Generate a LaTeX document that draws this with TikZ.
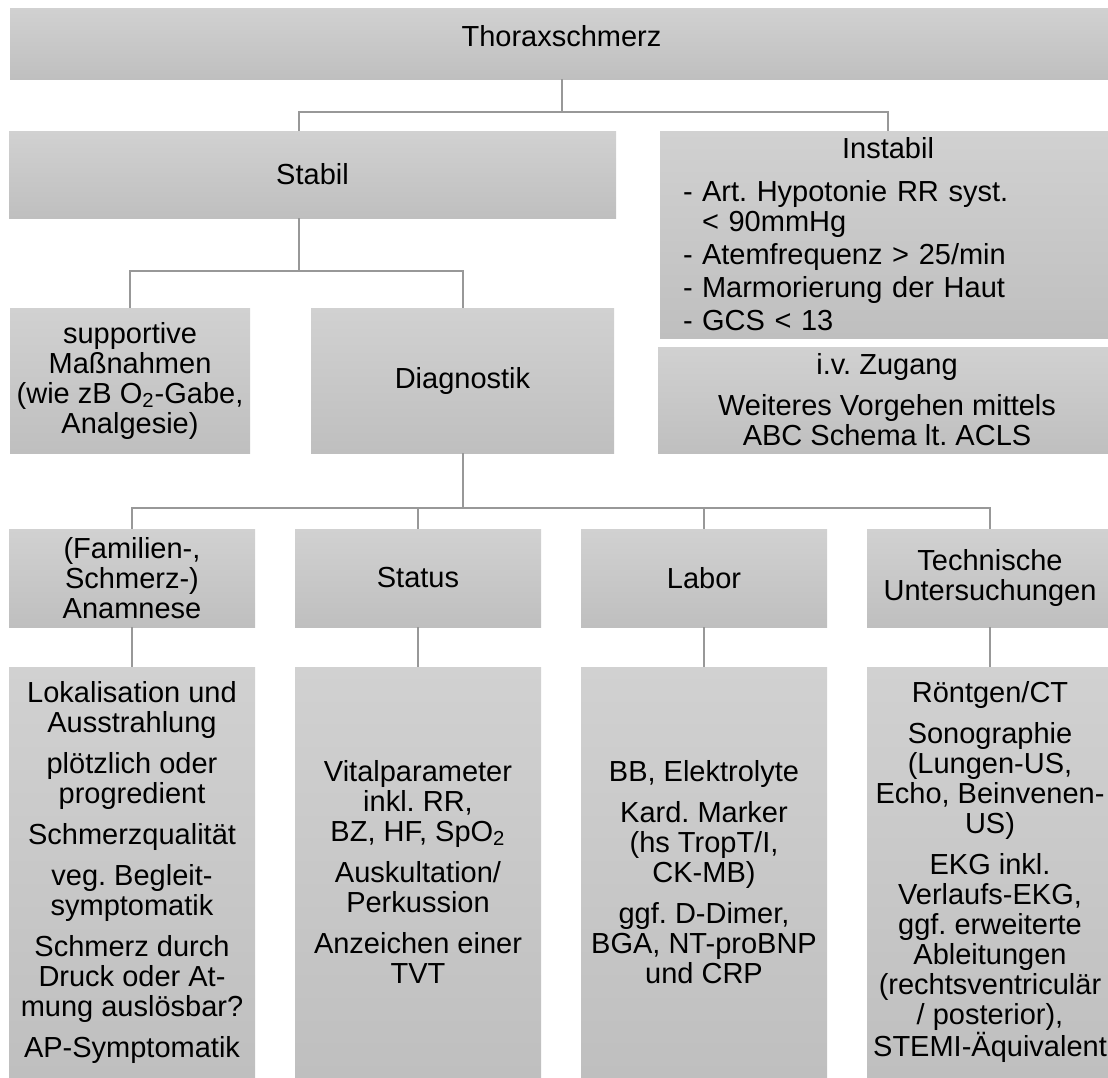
\documentclass[tikz,border=0pt]{standalone}
\usepackage{fontspec}
\setmainfont{Liberation Sans}
\frenchspacing
\definecolor{boxtop}{RGB}{209,209,209}
\definecolor{boxbot}{RGB}{191,191,191}
\definecolor{connline}{RGB}{152,152,152}
\newcommand{\dashitem}{\makebox[9.5pt][l]{-}}
\newcommand{\hang}{\hspace*{9.5pt}}

\begin{document}
\begin{tikzpicture}[x=0.5pt, y=-0.5pt,
  gbox/.style={rectangle, top color=boxtop, bottom color=boxbot, draw=none,
               inner sep=2pt, font=\fontsize{14.5}{15}\selectfont, align=center},
  conn/.style={draw=connline, line width=1pt}
]
\useasboundingbox (0,0) rectangle (1108,1077);

% Top level
\node[gbox, minimum width=551.5pt, minimum height=35.5pt] (thorax) at (561.5,43.5)
  {\raisebox{3.5pt}[\height][\depth]{Thoraxschmerz}};

% Second level
\node[gbox, minimum width=303.5pt, minimum height=43.5pt] (stabil) at (312.5,174.5) {Stabil};

\node[gbox, minimum width=228pt, minimum height=103.5pt, inner xsep=11.5pt,
      text width=205pt, align=left] (instabil) at (888,234.5)
  {\hfill Instabil\hfill\null\\[6.5pt]
   \dashitem Art. Hypotonie RR syst.\\
   \hang < 90mmHg\\[1.5pt]
   \dashitem Atemfrequenz > 25/min\\[1.5pt]
   \dashitem Marmorierung der Haut\\[1.5pt]
   \dashitem GCS < 13};

\node[gbox, minimum width=229pt, minimum height=53pt] (ivz) at (887,400)
  {i.v. Zugang\\[5.5pt]Weiteres Vorgehen mittels\\ABC Schema lt. ACLS};

% Third level
\node[gbox, minimum width=120pt, minimum height=72.5pt] (supp) at (130,380.5)
  {supportive\\Maßnahmen\\(wie zB O\textsubscript{2}-Gabe,\\Analgesie)};

\node[gbox, minimum width=151.5pt, minimum height=72.5pt] (diag) at (462.5,380.5) {Diagnostik};

% Diagnostik branches
\node[gbox, minimum width=123pt, minimum height=49pt] (anam)   at (132,578) {(Familien-,\\Schmerz-)\\Anamnese};
\node[gbox, minimum width=123pt, minimum height=49pt] (status) at (418,578) {Status};
\node[gbox, minimum width=123pt, minimum height=49pt] (labor)  at (704,578) {Labor};
\node[gbox, minimum width=123pt, minimum height=49pt] (techn)  at (990,578) {Technische\\Untersuchungen};

% Details
\node[gbox, minimum width=123pt, minimum height=205pt] (anamdet) at (132,872)
  {Lokalisation und\\Ausstrahlung\\[5.5pt]
   plötzlich oder\\progredient\\[5.5pt]
   Schmerzqualität\\[5.5pt]
   veg. Begleit-\\symptomatik\\[5.5pt]
   Schmerz durch\\Druck oder At-\\mung auslösbar?\\[5.5pt]
   AP-Symptomatik};

\node[gbox, minimum width=123pt, minimum height=205pt] (statusdet) at (418,872)
  {Vitalparameter\\inkl. RR,\\BZ, HF, SpO\textsubscript{2}\\[5.5pt]
   Auskultation/\\Perkussion\\[5.5pt]
   Anzeichen einer\\TVT};

\node[gbox, minimum width=123pt, minimum height=205pt] (labordet) at (704,872)
  {BB, Elektrolyte\\[5.5pt]
   Kard. Marker\\(hs TropT/I,\\CK-MB)\\[5.5pt]
   ggf. D-Dimer,\\BGA, NT-proBNP\\und CRP};

\node[gbox, minimum width=123pt, minimum height=205pt] (techndet) at (990,872)
  {Röntgen/CT\\[5.5pt]
   Sonographie\\(Lungen-US,\\Echo, Beinvenen-\\US)\\[5.5pt]
   EKG inkl.\\Verlaufs-EKG,\\ggf. erweiterte\\Ableitungen\\(rechtsventriculär\\/ posterior),\\STEMI-Äquivalent};

% Connectors
\coordinate (topsplit)  at (561.5,112);
\coordinate (stabsplit) at (299,271);
\coordinate (diagsplit) at (463,508);

\draw[conn] (thorax.south) -- (topsplit) -| (instabil.north);
\draw[conn] (topsplit) -| (stabil.north -| stabsplit);
\draw[conn] (stabil.south -| stabsplit) -- (stabsplit) -| (supp.north);
\draw[conn] (stabsplit) -| (diag.north);
\draw[conn] (diag.south -| diagsplit) -- (diagsplit);
\foreach \n/\d in {anam/anamdet, status/statusdet, labor/labordet, techn/techndet} {
  \draw[conn] (diagsplit) -| (\n.north);
  \draw[conn] (\n.south) -- (\d.north);
}
\end{tikzpicture}
\end{document}
